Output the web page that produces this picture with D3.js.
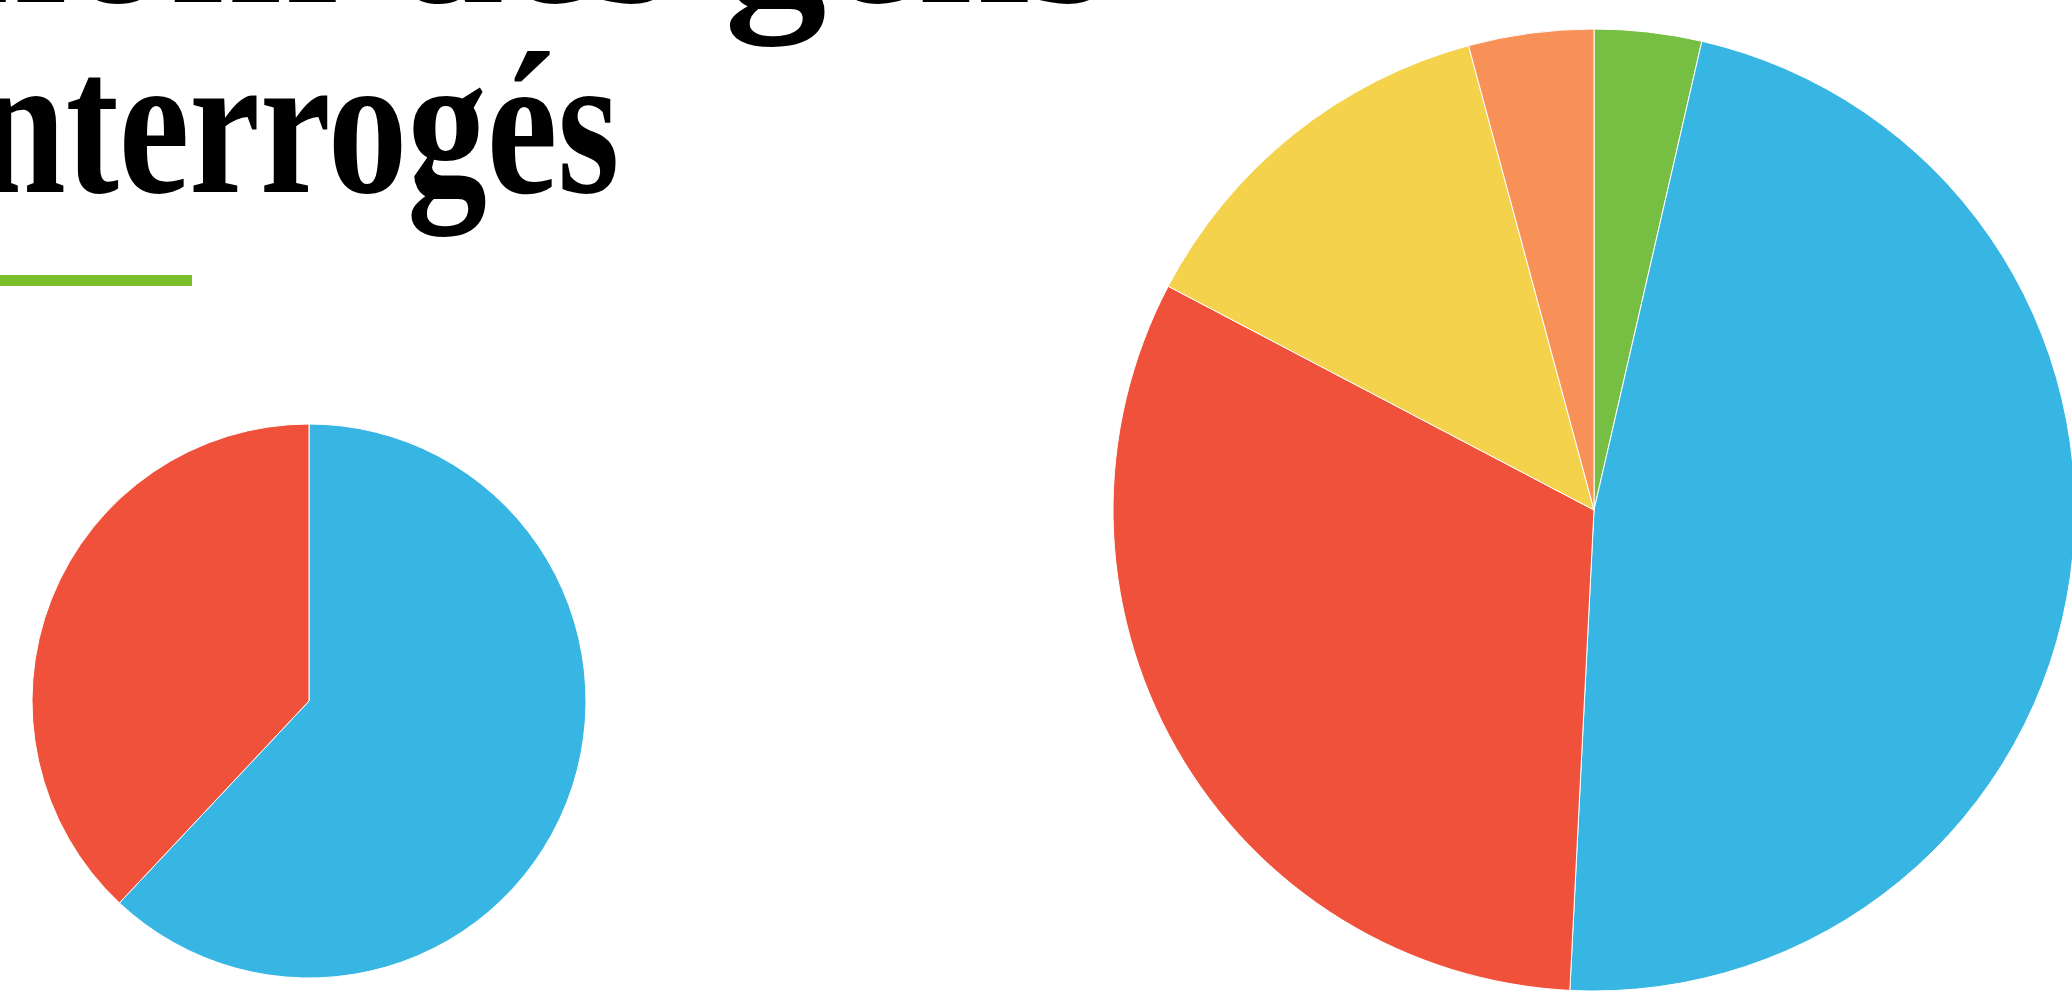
<!DOCTYPE html>
<html>
<head>
<meta charset="utf-8">
<script src="https://cdn.jsdelivr.net/npm/d3@7"></script>
<style>
  body { margin: 0; background: #fff; overflow: hidden; }
</style>
</head>
<body>
<div id="chart"></div>
<script>
// title lines (first one is mostly cut by the frame)
var titleLines = ["au nom des gens", "interrogés"]

// small pie
var smallCats = ["A", "B"]
var smallValues = [62, 38]
var smallColors = ["#38b6e3", "#ef513b"]

// big pie, clockwise from 12 o'clock
var bigCats = ["A", "B", "C", "D", "E"]
var bigValues = [3.6, 47.2, 31.9, 13.1, 4.2]
var bigColors = ["#76bf43", "#38b6e3", "#ef513b", "#f5d24c", "#f79158"]

var width = 2072, height = 994

var svg = d3.select("#chart")
    .append("svg")
    .attr("width", width)
    .attr("height", height)

// title, condensed bold serif
var title = svg.append("g")
    .attr("font-family", "'Liberation Serif', 'DejaVu Serif', serif")
    .attr("font-weight", "bold")
    .attr("font-size", 204)
    .attr("fill", "#000")

title.append("text").attr("x", 1110).attr("y", 2).attr("text-anchor", "end").text(titleLines[0])

var squeeze = 0.78
title.append("text")
    .attr("transform", "scale(" + squeeze + ",1)")
    .attr("x", -67 / squeeze)
    .attr("y", 192)
    .text(titleLines[1])

// green rule under the title
svg.append("rect")
    .attr("x", -105)
    .attr("y", 275)
    .attr("width", 297)
    .attr("height", 11)
    .attr("fill", "#7bbd2a")

function drawPie(cx, cy, r, cats, values, colors) {
    var color = d3.scaleOrdinal().domain(cats).range(colors)
    var pie = d3.pie().sort(null).value(function (d) { return d.v })
    var arc = d3.arc().innerRadius(0).outerRadius(r)
    var data = cats.map(function (c, i) { return { c: c, v: values[i] } })

    svg.append("g")
        .attr("transform", "translate(" + cx + "," + cy + ")")
        .selectAll("path")
        .data(pie(data))
        .enter()
        .append("path")
        .attr("d", arc)
        .attr("fill", function (d) { return color(d.data.c) })
        .attr("stroke", "#fff")
        .attr("stroke-width", 1)
}

drawPie(309, 701, 277, smallCats, smallValues, smallColors)
drawPie(1594, 510, 481, bigCats, bigValues, bigColors)
</script>
</body>
</html>
